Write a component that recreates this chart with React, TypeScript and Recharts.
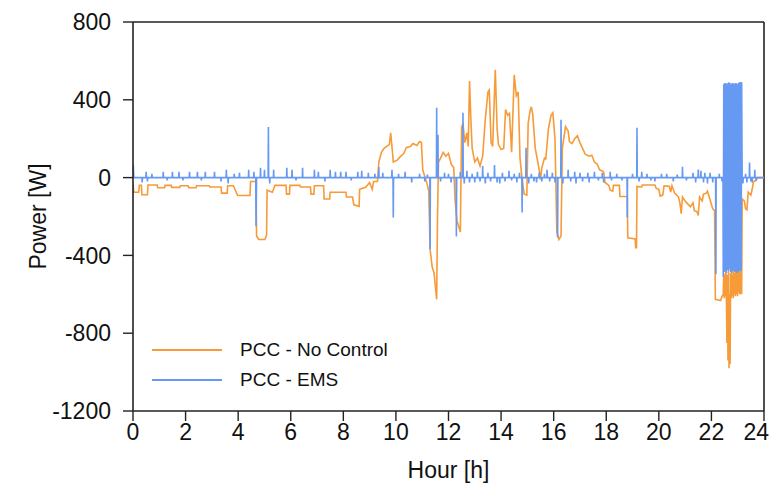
import React from 'react';
import { LineChart, Line, XAxis, YAxis, Legend, ReferenceLine } from 'recharts';

const FONT = '"Liberation Sans", Arial, Helvetica, sans-serif';
const ORANGE = '#F79A38';
const BLUE = '#6699F2';

const xTicks = [0, 2, 4, 6, 8, 10, 12, 14, 16, 18, 20, 22, 24];
const yTicks = [-1200, -800, -400, 0, 400, 800];
const seriesNames = ['PCC - No Control', 'PCC - EMS'];

// [hour, power W]
const noControl: [number, number][] = [
  [0.0, -30], [0.03, -75], [0.22, -75], [0.24, -40], [0.32, -40], [0.34, -88], [0.55, -88], [0.57, -38],
  [0.92, -38], [0.94, -52], [1.2, -52], [1.22, -40], [1.45, -40], [1.47, -50], [1.78, -50], [1.8, -42],
  [2.1, -42], [2.12, -52], [2.4, -52], [2.42, -42], [2.9, -42], [2.92, -48], [3.35, -48], [3.37, -80],
  [3.58, -80], [3.6, -42], [3.82, -42], [3.98, -92], [4.45, -92], [4.47, -20], [4.68, -20], [4.7, -300],
  [4.78, -318], [5.02, -318], [5.08, -295], [5.1, -65], [5.3, -75], [5.4, -40], [5.82, -40], [5.84, -85],
  [5.95, -85], [5.97, -40], [6.35, -40], [6.37, -48], [6.75, -48], [6.77, -85], [6.88, -85], [6.9, -42],
  [7.25, -42], [7.27, -110], [7.48, -110], [7.5, -75], [8.1, -75], [8.12, -100], [8.35, -100], [8.4, -140],
  [8.6, -148], [8.62, -60], [8.85, -50], [9.0, -25], [9.1, -60], [9.15, -20], [9.3, -20], [9.35, 80],
  [9.45, 130], [9.55, 150], [9.65, 160], [9.75, 170], [9.8, 230], [9.85, 160], [9.9, 80], [10.05, 90],
  [10.15, 105], [10.3, 125], [10.4, 155], [10.55, 160], [10.65, 175], [10.8, 165], [10.9, 185], [10.97, 180],
  [11.02, 40], [11.1, 5], [11.2, -40], [11.25, -70], [11.3, -369], [11.38, -460], [11.45, -490], [11.5, -560],
  [11.55, -626], [11.58, -220], [11.62, 80], [11.7, 100], [11.8, 130], [11.9, 110], [12.0, 125], [12.1, 70],
  [12.2, 50], [12.25, -115], [12.32, -220], [12.45, -280], [12.5, 260], [12.55, 280], [12.62, 180], [12.7, 230],
  [12.75, 160], [12.8, 497], [12.85, 300], [12.9, 150], [13.0, 80], [13.1, 100], [13.2, 60], [13.3, 110],
  [13.4, 300], [13.5, 440], [13.55, 450], [13.62, 180], [13.68, 160], [13.78, 554], [13.85, 250], [13.9, 170],
  [14.0, 145], [14.1, 150], [14.17, 350], [14.25, 320], [14.32, 330], [14.4, 130], [14.5, 528], [14.58, 420],
  [14.65, 440], [14.72, 100], [14.8, -10], [14.88, -85], [14.98, -90], [15.03, 280], [15.1, 340], [15.15, 364],
  [15.2, 330], [15.3, 150], [15.38, 92], [15.45, 40], [15.5, -10], [15.55, 50], [15.65, 100], [15.7, 95],
  [15.8, 250], [15.9, 320], [15.97, 333], [16.05, 200], [16.12, -280], [16.2, -318], [16.28, -300], [16.33, 150],
  [16.45, 262], [16.55, 240], [16.6, 185], [16.7, 175], [16.8, 200], [16.9, 215], [17.0, 180], [17.1, 150],
  [17.2, 120], [17.35, 110], [17.45, 115], [17.55, 80], [17.65, 70], [17.75, 40], [17.9, 30], [17.95, -25],
  [18.1, -40], [18.15, -65], [18.25, -70], [18.27, -40], [18.5, -40], [18.52, -97], [18.8, -97], [18.82, -310],
  [19.1, -315], [19.12, -360], [19.15, -360], [19.17, -45], [19.35, -48], [19.37, -38], [19.85, -38], [19.9, -55],
  [20.0, -60], [20.05, -95], [20.15, -90], [20.2, -42], [20.4, -45], [20.45, -75], [20.5, -42], [20.6, -80],
  [20.75, -100], [20.8, -130], [20.85, -185], [20.9, -100], [21.0, -120], [21.1, -135], [21.2, -150], [21.3, -130],
  [21.35, -170], [21.45, -175], [21.5, -195], [21.55, -100], [21.65, -120], [21.7, -85], [21.8, -80], [21.85, -70],
  [21.95, -115], [22.05, -160], [22.12, -170], [22.15, -626], [22.35, -632], [22.4, -612], [22.45, -600],
  [22.47, -490], [22.49, -620], [22.51, -500], [22.53, -610], [22.55, -480], [22.57, -620], [22.59, -850],
  [22.61, -500], [22.63, -940], [22.65, -480], [22.67, -980], [22.69, -600], [22.71, -960], [22.73, -490],
  [22.75, -620], [22.77, -480], [22.79, -610], [22.81, -500], [22.83, -620], [22.85, -470], [22.87, -600],
  [22.89, -490], [22.91, -610], [22.93, -470], [22.95, -600], [22.97, -480], [22.99, -610], [23.01, -470],
  [23.03, -590], [23.05, -480], [23.07, -600], [23.09, -460], [23.11, -600], [23.13, -470], [23.15, -600],
  [23.17, -110], [23.25, -120], [23.3, -160], [23.35, -165], [23.4, -75], [23.5, -90], [23.55, -60],
  [23.6, -20], [23.7, -15], [23.75, 0], [24.0, 0],
];

const ems: [number, number][] = [
  [0, 0], [0.01, 67], [0.03, 0], [0.34, 0], [0.35, -25], [0.36, 0], [0.49, 0], [0.5, 30], [0.51, 0],
  [0.54, 0], [0.55, -20], [0.56, 0], [0.71, 0], [0.72, 20], [0.73, 0], [1.14, 0], [1.15, 30], [1.16, 0],
  [1.29, 0], [1.3, -15], [1.31, 0], [1.49, 0], [1.5, 30], [1.51, 0], [1.74, 0], [1.75, 30], [1.76, 0],
  [1.89, 0], [1.9, -15], [1.91, 0], [2.14, 0], [2.15, 30], [2.16, 0], [2.44, 0], [2.45, 30], [2.46, 0],
  [2.59, 0], [2.6, -15], [2.61, 0], [2.74, 0], [2.75, 30], [2.76, 0], [3.09, 0], [3.1, 30], [3.11, 0],
  [3.34, 0], [3.35, -20], [3.36, 0], [3.54, 0], [3.55, 40], [3.56, 0], [3.61, 0], [3.62, -30], [3.63, 0],
  [3.84, 0], [3.85, 20], [3.86, 0], [4.04, 0], [4.05, 25], [4.06, 0], [4.39, 0], [4.4, 40], [4.41, 0],
  [4.59, 0], [4.6, 30], [4.61, 0], [4.67, 0], [4.68, -250], [4.7, 0], [4.84, 0], [4.85, 50], [4.86, 0],
  [4.99, 0], [5.0, 40], [5.01, 0], [5.14, 0], [5.15, 260], [5.16, 0], [5.19, 0], [5.2, -30], [5.21, 0],
  [5.34, 0], [5.35, 40], [5.36, 0], [5.84, 0], [5.85, 50], [5.86, 0], [6.04, 0], [6.05, 40], [6.06, 0],
  [6.19, 0], [6.2, -15], [6.21, 0], [6.44, 0], [6.45, 50], [6.46, 0], [6.89, 0], [6.9, 40], [6.91, 0],
  [7.04, 0], [7.05, 30], [7.06, 0], [7.29, 0], [7.3, -20], [7.31, 0], [7.49, 0], [7.5, 40], [7.51, 0],
  [7.69, 0], [7.7, 30], [7.71, 0], [7.89, 0], [7.9, 30], [7.91, 0], [8.09, 0], [8.1, 30], [8.11, 0],
  [8.29, 0], [8.3, -15], [8.31, 0], [8.54, 0], [8.55, 30], [8.56, 0], [8.69, 0], [8.7, 35], [8.71, 0],
  [8.94, 0], [8.95, 25], [8.96, 0], [9.19, 0], [9.2, 20], [9.21, 0], [9.34, 0], [9.35, 55], [9.36, 0],
  [9.49, 0], [9.5, 25], [9.51, 0], [9.84, 0], [9.85, 40], [9.86, 0], [9.89, 0], [9.9, -205], [9.91, 0],
  [10.09, 0], [10.1, 20], [10.11, 0], [10.34, 0], [10.35, 30], [10.36, 0], [10.59, 0], [10.6, -25], [10.61, 0],
  [10.89, 0], [10.9, 20], [10.91, 0], [11.09, 0], [11.1, -20], [11.11, 0], [11.19, 0], [11.2, 15], [11.21, 0],
  [11.29, 0], [11.3, -369], [11.31, 0], [11.54, 0], [11.55, 359], [11.56, 0], [11.59, 0], [11.6, 220], [11.61, 0],
  [11.69, 0], [11.7, -20], [11.71, 0], [11.84, 0], [11.85, 25], [11.86, 0], [11.99, 0], [12.0, 20], [12.01, 0],
  [12.09, 0], [12.1, -25], [12.11, 0], [12.29, 0], [12.3, -303], [12.31, 0], [12.44, 0], [12.45, 30], [12.46, 0],
  [12.54, 0], [12.55, 333], [12.56, 0], [12.59, 0], [12.6, -30], [12.61, 0], [12.69, 0], [12.7, 35], [12.71, 0],
  [12.79, 0], [12.8, -25], [12.81, 0], [12.89, 0], [12.9, 20], [12.91, 0], [12.99, 0], [13.0, -25], [13.01, 0],
  [13.09, 0], [13.1, 30], [13.11, 0], [13.19, 0], [13.2, -20], [13.21, 0], [13.29, 0], [13.3, 60], [13.31, 0],
  [13.39, 0], [13.4, -30], [13.41, 0], [13.49, 0], [13.5, 25], [13.51, 0], [13.59, 0], [13.6, -20], [13.61, 0],
  [13.74, 0], [13.75, 65], [13.76, 0], [13.84, 0], [13.85, -25], [13.86, 0], [13.94, 0], [13.95, -30], [13.96, 0],
  [14.04, 0], [14.05, 25], [14.06, 0], [14.14, 0], [14.15, -20], [14.16, 0], [14.29, 0], [14.3, 35], [14.31, 0],
  [14.39, 0], [14.4, -15], [14.41, 0], [14.49, 0], [14.5, 20], [14.51, 0], [14.59, 0], [14.6, -25], [14.61, 0],
  [14.69, 0], [14.7, 25], [14.71, 0], [14.79, 0], [14.8, -180], [14.81, 0], [14.94, 0], [14.95, 154], [14.96, 0],
  [15.04, 0], [15.05, -30], [15.06, 0], [15.14, 0], [15.15, 20], [15.16, 0], [15.24, 0], [15.25, -20], [15.26, 0],
  [15.34, 0], [15.35, -25], [15.36, 0], [15.44, 0], [15.45, 25], [15.46, 0], [15.54, 0], [15.55, -20], [15.56, 0],
  [15.64, 0], [15.65, 20], [15.66, 0], [15.74, 0], [15.75, 40], [15.76, 0], [15.84, 0], [15.85, -20], [15.86, 0],
  [15.94, 0], [15.95, 25], [15.96, 0], [16.04, 0], [16.05, -25], [16.06, 0], [16.14, 0], [16.15, -308], [16.16, 0],
  [16.27, 0], [16.28, 297], [16.29, 0], [16.34, 0], [16.35, -30], [16.36, 0], [16.54, 0], [16.55, 40], [16.56, 0],
  [16.64, 0], [16.65, -20], [16.66, 0], [16.79, 0], [16.8, 30], [16.81, 0], [16.84, 0], [16.85, -30], [16.86, 0],
  [16.99, 0], [17.0, 25], [17.01, 0], [17.09, 0], [17.1, -20], [17.11, 0], [17.29, 0], [17.3, 25], [17.31, 0],
  [17.34, 0], [17.35, -25], [17.36, 0], [17.54, 0], [17.55, 30], [17.56, 0], [17.69, 0], [17.7, -15], [17.71, 0],
  [17.84, 0], [17.85, 25], [17.86, 0], [17.89, 0], [17.9, -25], [17.91, 0], [18.14, 0], [18.15, 30], [18.16, 0],
  [18.19, 0], [18.2, -15], [18.21, 0], [18.39, 0], [18.4, 20], [18.41, 0], [18.59, 0], [18.6, -15], [18.61, 0],
  [18.79, 0], [18.8, -205], [18.81, 0], [18.99, 0], [19.0, 20], [19.01, 0], [19.16, 0], [19.17, 256], [19.18, 0],
  [19.24, 0], [19.25, -20], [19.26, 0], [19.34, 0], [19.35, 30], [19.36, 0], [19.54, 0], [19.55, 20], [19.56, 0],
  [19.69, 0], [19.7, -15], [19.71, 0], [19.84, 0], [19.85, -20], [19.86, 0], [20.09, 0], [20.1, 20], [20.11, 0],
  [20.29, 0], [20.3, 20], [20.31, 0], [20.54, 0], [20.55, -20], [20.56, 0], [20.69, 0], [20.7, 15], [20.71, 0],
  [20.89, 0], [20.9, 56], [20.91, 0], [21.04, 0], [21.05, -15], [21.06, 0], [21.29, 0], [21.3, 25], [21.31, 0],
  [21.39, 0], [21.4, -25], [21.41, 0], [21.49, 0], [21.5, 41], [21.51, 0], [21.59, 0], [21.6, 35], [21.61, 0],
  [21.69, 0], [21.7, -25], [21.71, 0], [21.74, 0], [21.75, 25], [21.76, 0], [21.84, 0], [21.85, -30], [21.86, 0],
  [21.94, 0], [21.95, 25], [21.96, 0], [22.04, 0], [22.05, -25], [22.06, 0], [22.16, 0], [22.17, -497], [22.18, 0],
  [22.29, 0], [22.3, 20], [22.31, 0], [22.39, 0], [22.4, -20], [22.41, 0],
  [22.44, 0], [22.45, -510], [22.47, 480], [22.49, -485], [22.51, 487], [22.53, -480], [22.55, 485], [22.57, -490],
  [22.59, 480], [22.61, -475], [22.63, 487], [22.65, -480], [22.67, 490], [22.69, -470], [22.71, 485], [22.73, -485],
  [22.75, 480], [22.77, -490], [22.79, 487], [22.81, -480], [22.83, 485], [22.85, -475], [22.87, 480], [22.89, -485],
  [22.91, 487], [22.93, -480], [22.95, 485], [22.97, -490], [22.99, 480], [23.01, -485], [23.03, 487], [23.05, -480],
  [23.07, 490], [23.09, -475], [23.11, 492], [23.13, -480], [23.15, 490], [23.17, 0],
  [23.19, 0], [23.2, -30], [23.21, 0], [23.29, 0], [23.3, 20], [23.31, 0], [23.34, 0], [23.35, -25], [23.36, 0],
  [23.44, 0], [23.45, 77], [23.46, 0], [23.49, 0], [23.5, -20], [23.51, 0], [23.54, 0], [23.55, -25], [23.56, 0],
  [23.64, 0], [23.65, 40], [23.66, 0], [23.69, 0], [23.7, -15], [23.71, 0], [24.0, 0],
];

const toRows = (pts: [number, number][]) => pts.map(([h, p]) => ({ h, p }));
const noControlRows = toRows(noControl);
const emsRows = toRows(ems);
const legendItems = [
  { name: seriesNames[0], color: ORANGE },
  { name: seriesNames[1], color: BLUE },
];

const LegendContent = () => (
  <div style={{ fontFamily: FONT, fontSize: 19, color: '#111' }}>
    {legendItems.map((it) => (
      <div key={it.name} style={{ display: 'flex', alignItems: 'center', height: 30 }}>
        <svg width={70} height={4} style={{ display: 'block' }}>
          <line x1={0} y1={2} x2={70} y2={2} stroke={it.color} strokeWidth={2} />
        </svg>
        <span style={{ marginLeft: 18, whiteSpace: 'nowrap' }}>{it.name}</span>
      </div>
    ))}
  </div>
);

const XTick = (props: any) => {
  const { x, y, payload } = props;
  const last = payload.value === xTicks[xTicks.length - 1];
  return (
    <text x={last ? 769 : x} y={y} dy="0.71em" textAnchor={last ? 'end' : 'middle'}
      fontFamily={FONT} fontSize={23} fill="#111">{payload.value}</text>
  );
};

const YLabel = (props: any) => {
  const vb = props.viewBox || { x: 0, y: 22, width: 133, height: 389 };
  const cy = vb.y + vb.height / 2;
  return (
    <text x={38} y={cy} transform={`rotate(-90, 38, ${cy})`} textAnchor="middle" dominantBaseline="central"
      fontFamily={FONT} fontSize={23} fill="#111">Power [W]</text>
  );
};

const XLabel = (props: any) => {
  const vb = props.viewBox || { x: 133, y: 411, width: 631, height: 50 };
  const cx = vb.x + vb.width / 2;
  return (
    <text x={cx} y={470} textAnchor="middle" dominantBaseline="central"
      fontFamily={FONT} fontSize={23} fill="#111">Hour [h]</text>
  );
};

export default function App() {
  return (
    <div style={{ position: 'absolute', left: 0, top: 0, width: 771, height: 487, background: '#fff' }}>
      <LineChart width={771} height={487} margin={{ top: 22, right: 7, left: 0, bottom: 26 }}>
        <XAxis
          dataKey="h"
          type="number"
          domain={[0, 24]}
          ticks={xTicks}
          allowDataOverflow
          interval={0}
          height={50}
          tickSize={10}
          tickMargin={3}
          axisLine={{ stroke: '#222', strokeWidth: 1.6 }}
          tickLine={{ stroke: '#222', strokeWidth: 1.4 }}
          tick={<XTick />}
          label={<XLabel />}
        />
        <YAxis
          type="number"
          domain={[-1200, 800]}
          ticks={yTicks}
          allowDataOverflow
          interval={0}
          width={133}
          tickSize={10}
          tickMargin={12}
          axisLine={{ stroke: '#222', strokeWidth: 1.6 }}
          tickLine={{ stroke: '#222', strokeWidth: 1.4 }}
          tick={{ fill: '#111', fontSize: 23, fontFamily: FONT }}
          label={<YLabel />}
        />
        <ReferenceLine y={800} stroke="#222" strokeWidth={1.6} />
        <ReferenceLine x={24} stroke="#222" strokeWidth={1.6} />
        <Line data={noControlRows} dataKey="p" name={seriesNames[0]} type="linear" stroke={ORANGE}
          strokeWidth={1.6} dot={false} activeDot={false} isAnimationActive={false} />
        <Line data={emsRows} dataKey="p" name={seriesNames[1]} type="linear" stroke={BLUE}
          strokeWidth={1.6} dot={false} activeDot={false} isAnimationActive={false} />
        <Legend
          layout="horizontal"
          align="center"
          verticalAlign="middle"
          content={<LegendContent />}
          wrapperStyle={{ position: 'absolute', left: 152, top: 335, width: 'auto', height: 'auto' }}
        />
      </LineChart>
    </div>
  );
}
